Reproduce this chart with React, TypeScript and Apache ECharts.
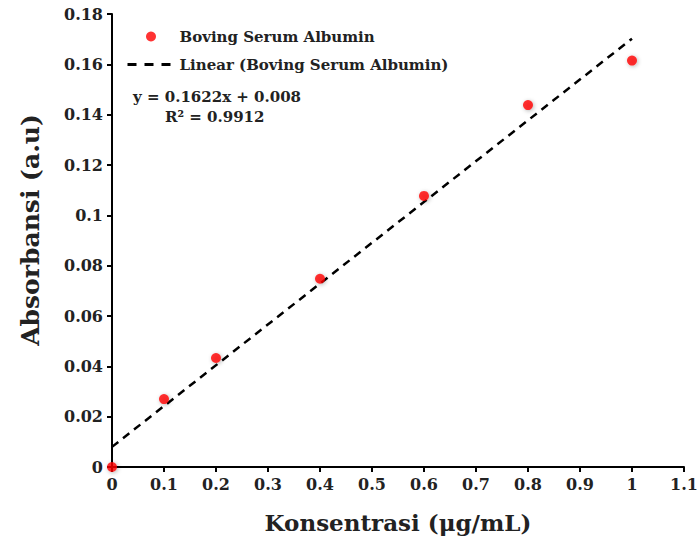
import React, { useEffect, useRef } from "react";
import * as echarts from "echarts";

const concentration = [0, 0.1, 0.2, 0.4, 0.6, 0.8, 1.0];
const absorbance = [0, 0.027, 0.0433, 0.0748, 0.1077, 0.1438, 0.1615];
const trendX = [0, 1.0];
const trendY = [0.008, 0.1702];
const seriesName = "Boving Serum Albumin";
const trendName = "Linear (Boving Serum Albumin)";
const equationText = "y = 0.1622x + 0.008";
const r2Text = "R² = 0.9912";
const xTitle = "Konsentrasi (μg/mL)";
const yTitle = "Absorbansi (a.u)";

const FONT = "DejaVu Serif";

export default function App() {
  const ref = useRef<HTMLDivElement>(null);
  useEffect(() => {
    if (!ref.current) return;
    const chart = echarts.init(ref.current, null, { renderer: "svg" });
    const axisCommon = {
      axisLine: { show: true, onZero: false, lineStyle: { color: "#000", width: 2 } },
      axisTick: { show: true, inside: false, length: 5, lineStyle: { color: "#000", width: 2 } },
      splitLine: { show: false },
      axisLabel: { fontFamily: FONT, fontWeight: "bold", fontSize: 16, color: "#222", margin: 9 },
    };
    chart.setOption({
      animation: false,
      backgroundColor: "#fff",
      grid: { left: 112, right: 13, top: 14, bottom: 73, containLabel: false, outerBoundsMode: "none" },
      legend: {
        orient: "vertical",
        left: 121,
        top: 24,
        itemWidth: 47,
        itemHeight: 10,
        itemGap: 13,
        textStyle: { fontFamily: FONT, fontWeight: "bold", fontSize: 15, color: "#222" },
        data: [
          { name: seriesName },
          { name: trendName, itemStyle: { opacity: 0 }, lineStyle: { type: [9, 8], width: 3 } },
        ],
      },
      xAxis: {
        type: "value",
        min: 0,
        max: 1.1,
        interval: 0.1,
        name: xTitle,
        nameLocation: "middle",
        nameGap: 44,
        nameTextStyle: { fontFamily: FONT, fontWeight: "bold", fontSize: 23, color: "#222" },
        ...axisCommon,
      },
      yAxis: {
        type: "value",
        min: 0,
        max: 0.18,
        interval: 0.02,
        ...axisCommon,
      },
      graphic: [
        {
          type: "text",
          x: 30,
          y: 230,
          rotation: Math.PI / 2,
          style: {
            text: yTitle,
            fontFamily: FONT,
            fontWeight: "bold",
            fontSize: 25,
            fill: "#222",
            textAlign: "center",
            textVerticalAlign: "middle",
          },
        },
        {
          type: "text",
          left: 133,
          top: 89,
          style: { text: equationText, fontFamily: FONT, fontWeight: "bold", fontSize: 15, fill: "#222" },
        },
        {
          type: "text",
          left: 165,
          top: 109,
          style: { text: r2Text, fontFamily: FONT, fontWeight: "bold", fontSize: 15, fill: "#222" },
        },
      ],
      series: [
        {
          name: trendName,
          type: "line",
          data: trendX.map((x, i) => [x, trendY[i]]),
          symbol: "none",
          showSymbol: false,
          lineStyle: { color: "#000", width: 2.5, type: [8, 6] },
          itemStyle: { color: "#000" },
          z: 2,
        },
        {
          name: seriesName,
          type: "scatter",
          data: concentration.map((x, i) => [x, absorbance[i]]),
          symbol: "circle",
          symbolSize: 10,
          itemStyle: { color: "#ff0000", shadowBlur: 4, shadowColor: "rgba(0,0,0,0.35)", shadowOffsetX: 1, shadowOffsetY: 1 },
          z: 3,
        },
      ],
    });
    return () => chart.dispose();
  }, []);
  return <div ref={ref} style={{ width: 697, height: 540, position: "absolute", left: 0, top: 0 }} />;
}
